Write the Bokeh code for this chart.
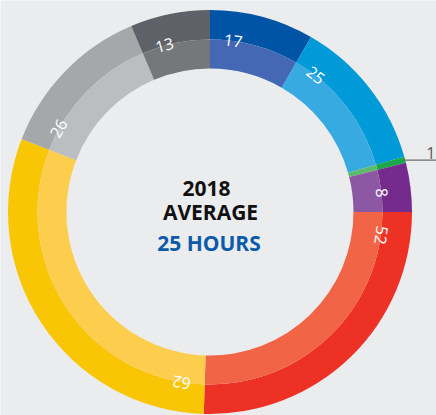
import math
from bokeh.plotting import figure
from bokeh.models import Range1d, ColumnDataSource
from bokeh.core.properties import value
from bokeh.embed import file_html
from bokeh.resources import INLINE

# ---- data ----
values = [17, 25, 1, 8, 52, 62, 26, 13]
labels = ["17", "25", "1", "8", "52", "62", "26", "13"]
outer_colors = ["#0054a6", "#009ad9", "#1aa84b", "#752a8e", "#ee3125", "#f9c606", "#a5a8ab", "#5e6167"]
inner_colors = ["#4468b3", "#37aae1", "#5dbb6e", "#8d58a3", "#f26446", "#fdcd4d", "#bbbec1", "#757779"]
title_lines = ["2018", "AVERAGE"]
subtitle = "25 HOURS"

W, H = 436, 415
BG = "#ebecee"
cx, cy = 209.5, H - 211.5
r_in, r_mid, r_out = 143.5, 172.5, 202.0

p = figure(width=W, height=H, output_backend="svg", toolbar_location=None,
           x_range=Range1d(0, W), y_range=Range1d(0, H), min_border=0,
           background_fill_color=BG, border_fill_color=BG, outline_line_color=None)
p.axis.visible = False
p.grid.visible = False

total = sum(values)
starts, ends = [], []
acc = 0
for v in values:
    t0 = acc / total * 2 * math.pi
    acc += v
    t1 = acc / total * 2 * math.pi
    starts.append(math.pi / 2 - t0)
    ends.append(math.pi / 2 - t1)

src = ColumnDataSource(dict(x=[cx] * len(values), y=[cy] * len(values), start=starts, end=ends,
                            oc=outer_colors, ic=inner_colors))
p.annular_wedge(x="x", y="y", inner_radius=r_mid, outer_radius=r_out, start_angle="start",
                end_angle="end", direction="clock", fill_color="oc", line_color=None, source=src)
p.annular_wedge(x="x", y="y", inner_radius=r_in, outer_radius=r_mid, start_angle="start",
                end_angle="end", direction="clock", fill_color="ic", line_color=None, source=src)

# segment labels
lx, ly, la, lt = [], [], [], []
r_lab = 173.0
off = math.radians(7.7)
small = []
for i, v in enumerate(values):
    theta0 = math.pi / 2 - starts[i]
    theta1 = math.pi / 2 - ends[i]
    if v / total < 0.02:
        small.append((i, (theta0 + theta1) / 2))
        continue
    th = theta0 + off
    lx.append(cx + r_lab * math.sin(th))
    ly.append(cy + r_lab * math.cos(th))
    la.append(-th)
    lt.append(labels[i])
p.text(x=lx, y=ly, text=lt, angle=la, text_align="center", text_baseline="middle",
       text_color="white", text_font=value("Open Sans"), text_font_size="16px")

# small segment callout
for i, th in small:
    x0 = cx + 200.5 * math.sin(th)
    y0 = cy + 200.5 * math.cos(th)
    p.line([x0, W], [y0, y0], line_color="#6d6e71", line_width=1.2)
    p.text(x=[W - 1], y=[y0 + 1], text=[labels[i]], text_align="right", text_baseline="bottom",
           text_color="#58595b", text_font=value("Open Sans"), text_font_size="16px")

# center text
p.text(x=[206, 210], y=[H - 188, H - 211], text=title_lines, text_align="center",
       text_baseline="middle", text_color="#111111", text_font=value("Open Sans"),
       text_font_style="bold", text_font_size="21px")
p.text(x=[208.5], y=[H - 242], text=[subtitle], text_align="center", text_baseline="middle",
       text_color="#0d5ba8", text_font=value("Open Sans"), text_font_style="bold", text_font_size="21px")

html = file_html(p, INLINE)
html = html.replace("<body>", '<body style="margin:0;background-color:#ebecee;">', 1)
open("out.html", "w").write(html)
